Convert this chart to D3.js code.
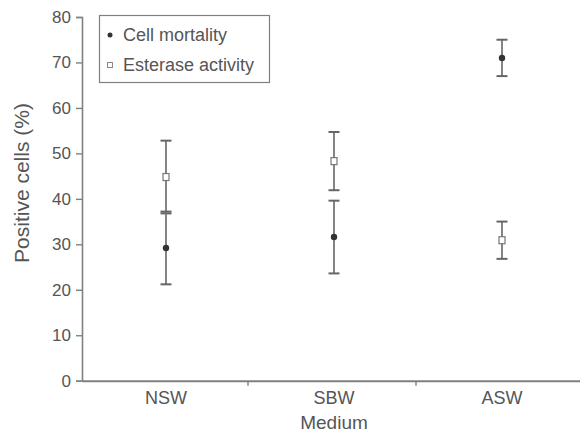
<!DOCTYPE html>
<html><head><meta charset="utf-8">
<script src="https://cdn.jsdelivr.net/npm/d3@7"></script>
<style>body{margin:0;background:#fff}svg{display:block}text{font-family:"Liberation Sans",Arial,sans-serif;fill:#555}</style>
</head><body><svg id="c" width="580" height="434"></svg>
<script>
const categories = ["NSW", "SBW", "ASW"];
const mortalityMean = [29.2, 31.6, 71];
const mortalityErr = [8, 8, 4];
const esteraseMean = [44.8, 48.3, 30.9];
const esteraseErr = [8, 6.4, 4.1];
const yTicks = [0, 10, 20, 30, 40, 50, 60, 70, 80];
const seriesNames = ["Cell mortality", "Esterase activity"];

const svg = d3.select("#c");
const x = d3.scaleBand().domain(categories).range([82, 586]).padding(0);
const y = d3.scaleLinear().domain([0, 80]).range([380.7, 17]);
const gray = "#808080";
const font = "Liberation Sans";

// Y axis
const ya = svg.append("g").attr("transform", "translate(82,0)")
  .call(d3.axisLeft(y).tickValues(yTicks).tickSize(6).tickPadding(5));
ya.select(".domain").attr("stroke", gray).attr("stroke-width", 1.6);
ya.selectAll(".tick line").attr("stroke", gray).attr("stroke-width", 1.4);
ya.selectAll(".tick text").attr("font-size", 17).attr("fill", "#666").style("font-family", font);

// X axis
const xa = svg.append("g").attr("transform", `translate(0,${y(0)})`)
  .call(d3.axisBottom(x).tickSize(0).tickPadding(11));
xa.select(".domain").attr("stroke", gray).attr("stroke-width", 2);
xa.selectAll(".tick text").attr("font-size", 18).attr("fill", "#666").style("font-family", font);
// boundary ticks
svg.append("g").selectAll("line").data(categories.slice(1)).join("line")
  .attr("x1", d => x(d) - 2).attr("x2", d => x(d) - 2)
  .attr("y1", y(0)).attr("y2", y(0) + 5)
  .attr("stroke", gray).attr("stroke-width", 1.4);

// Axis titles
svg.append("text").attr("x", x("SBW") + x.bandwidth() / 2).attr("y", 429)
  .attr("text-anchor", "middle").attr("font-size", 19).attr("fill", "#666").text("Medium");
svg.append("text").attr("transform", `translate(29,183) rotate(-90)`)
  .attr("text-anchor", "middle").attr("font-size", 21).attr("fill", "#666").text("Positive cells (%)");

const cx = d => x(d) + x.bandwidth() / 2;
function errorBars(means, errs) {
  const g = svg.append("g");
  categories.forEach((c, i) => {
    const lo = y(means[i] - errs[i]), hi = y(means[i] + errs[i]);
    g.append("line").attr("x1", cx(c)).attr("x2", cx(c)).attr("y1", lo).attr("y2", hi)
      .attr("stroke", "#777").attr("stroke-width", 1.8);
    [lo, hi].forEach(v => g.append("line").attr("x1", cx(c) - 5.5).attr("x2", cx(c) + 5.5)
      .attr("y1", v).attr("y2", v).attr("stroke", "#666").attr("stroke-width", 2));
  });
}
errorBars(esteraseMean, esteraseErr);
errorBars(mortalityMean, mortalityErr);

// markers
svg.append("g").selectAll("rect").data(categories).join("rect")
  .attr("x", (d) => cx(d) - 3).attr("y", (d, i) => y(esteraseMean[i]) - 3.5)
  .attr("width", 6).attr("height", 7).attr("fill", "#fff").attr("stroke", "#777").attr("stroke-width", 1.2);
svg.append("g").selectAll("circle").data(categories).join("circle")
  .attr("cx", d => cx(d)).attr("cy", (d, i) => y(mortalityMean[i])).attr("r", 3.2)
  .attr("fill", "#333");

// Legend
const lg = svg.append("g");
lg.append("rect").attr("x", 99.5).attr("y", 15.5).attr("width", 170).attr("height", 67)
  .attr("fill", "#fff").attr("stroke", "#808080").attr("stroke-width", 1.2);
lg.append("circle").attr("cx", 110).attr("cy", 35).attr("r", 2.5).attr("fill", "#333");
lg.append("rect").attr("x", 107.5).attr("y", 62.5).attr("width", 5).attr("height", 5)
  .attr("fill", "#fff").attr("stroke", "#888");
lg.append("text").attr("x", 123).attr("y", 40.5).attr("font-size", 18).attr("fill", "#666").text(seriesNames[0]);
lg.append("text").attr("x", 123).attr("y", 71).attr("font-size", 18).attr("fill", "#666").text(seriesNames[1]);
</script></body></html>
